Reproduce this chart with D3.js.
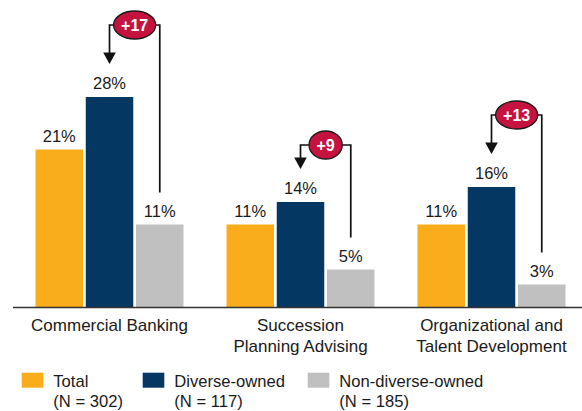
<!DOCTYPE html>
<html>
<head>
<meta charset="utf-8">
<script src="https://cdn.jsdelivr.net/npm/d3@7/dist/d3.min.js"></script>
<style>
  html, body { margin: 0; padding: 0; background: #fff; }
  svg { display: block; font-family: "Liberation Sans", Arial, sans-serif; }
</style>
</head>
<body>
<svg id="chart" width="582" height="411"></svg>
<script>
// Service categories (multi-line labels)
const categories = [
  ["Commercial Banking"],
  ["Succession", "Planning Advising"],
  ["Organizational and", "Talent Development"]
];
const seriesNames = ["Total", "Diverse-owned", "Non-diverse-owned"];
const seriesN = ["(N = 302)", "(N = 117)", "(N = 185)"];
const seriesColors = ["#F9AD1B", "#053763", "#C0C0C0"];

// Percent of firms per series, one entry per category
const totalValues = [21, 11, 11];
const diverseValues = [28, 14, 16];
const nonDiverseValues = [11, 5, 3];
const seriesValues = [totalValues, diverseValues, nonDiverseValues];

// Height (in percent units) at which each gap callout sits
const calloutLevel = [37.6, 21.6, 25.6];

const svg = d3.select("#chart");
const baseY = 307;

const x0 = d3.scaleBand()
  .domain(d3.range(categories.length))
  .range([14, 587])
  .paddingInner(0.225)
  .paddingOuter(0.1125);

const x1 = d3.scaleBand()
  .domain(d3.range(seriesNames.length))
  .range([0, x0.bandwidth()])
  .paddingInner(0.055);

const y = d3.scaleLinear().domain([0, 30]).range([baseY, 82]);

// Bars and value labels
const groups = svg.selectAll("g.cat")
  .data(categories.map((c, i) => i))
  .join("g")
  .attr("class", "cat")
  .attr("transform", i => `translate(${x0(i)},0)`);

groups.each(function(ci) {
  const g = d3.select(this);
  const rows = seriesValues.map((vals, si) => ({ si, v: vals[ci] }));
  g.selectAll("rect").data(rows).join("rect")
    .attr("x", d => x1(d.si))
    .attr("width", x1.bandwidth())
    .attr("y", d => y(d.v))
    .attr("height", d => y(0) - y(d.v))
    .attr("fill", d => seriesColors[d.si]);
  g.selectAll("text.val").data(rows).join("text")
    .attr("class", "val")
    .attr("x", d => x1(d.si) + x1.bandwidth() / 2)
    .attr("y", d => y(d.v) - 8)
    .attr("text-anchor", "middle")
    .attr("font-size", 16.5)
    .attr("fill", "#1a1a1a")
    .text(d => d.v + "%");
});

// Baseline axis
svg.append("line")
  .attr("x1", 13).attr("x2", 582)
  .attr("y1", baseY + 0.5).attr("y2", baseY + 0.5)
  .attr("stroke", "#333").attr("stroke-width", 1.5);

// Category labels
categories.forEach((lines, ci) => {
  const t = svg.append("text")
    .attr("text-anchor", "middle")
    .attr("font-size", 17)
    .attr("fill", "#1a1a1a");
  lines.forEach((ln, li) => {
    t.append("tspan")
      .attr("x", x0(ci) + x0.bandwidth() / 2)
      .attr("y", 330.7 + li * 21)
      .text(ln);
  });
});

// Gap callouts: diverse minus non-diverse
categories.forEach((c, ci) => {
  const xD = x0(ci) + x1(1) + x1.bandwidth() / 2;
  const xN = x0(ci) + x1(2) + x1.bandwidth() / 2;
  const cx = (xD + xN) / 2;
  const yA = y(calloutLevel[ci]);
  const gap = diverseValues[ci] - nonDiverseValues[ci];
  const label = "+" + gap;
  const tipY = y(diverseValues[ci]) - 33;
  const endY = y(nonDiverseValues[ci]) - 32;

  const g = svg.append("g");
  const txt = g.append("text")
    .attr("x", cx).attr("y", yA + 5.8)
    .attr("text-anchor", "middle")
    .attr("font-size", 16)
    .attr("font-weight", "bold")
    .attr("fill", "#fff")
    .text(label);
  const tw = txt.node().getComputedTextLength();
  const rx = Math.max(tw / 2 + 7.5, 14.5);
  const ry = 14;

  g.append("path")
    .attr("d", `M${cx - rx},${yA}H${xD}V${tipY - 10}`)
    .attr("fill", "none").attr("stroke", "#111").attr("stroke-width", 1.7);
  g.append("path")
    .attr("d", `M${xD - 6.3},${tipY - 11.6}L${xD + 6.3},${tipY - 11.6}L${xD},${tipY}Z`)
    .attr("fill", "#111");
  g.append("path")
    .attr("d", `M${cx + rx},${yA}H${xN}V${endY}`)
    .attr("fill", "none").attr("stroke", "#111").attr("stroke-width", 1.7);

  g.insert("ellipse", "text")
    .attr("cx", cx).attr("cy", yA)
    .attr("rx", rx).attr("ry", ry)
    .attr("fill", "#C5123F")
    .attr("stroke", "#1a1a1a").attr("stroke-width", 1.3);
});

// Legend
const legendX = [21.7, 142.7, 307.7];
seriesNames.forEach((name, si) => {
  const lg = svg.append("g").attr("transform", `translate(${legendX[si]},0)`);
  lg.append("rect")
    .attr("x", 0).attr("y", 372.7)
    .attr("width", 21.6).attr("height", 15)
    .attr("fill", seriesColors[si]);
  const t = lg.append("text")
    .attr("font-size", 16.6)
    .attr("fill", "#1a1a1a");
  t.append("tspan").attr("x", 31.6).attr("y", 387.3).text(name);
  t.append("tspan").attr("x", 31.6).attr("y", 406.6).text(seriesN[si]);
});
</script>
</body>
</html>
